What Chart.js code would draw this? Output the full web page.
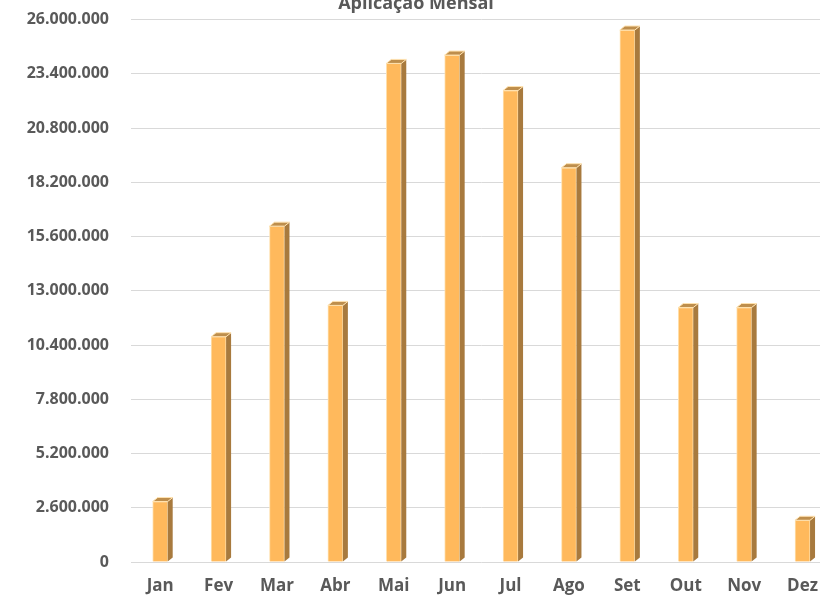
<!DOCTYPE html>
<html>
<head>
<meta charset="utf-8">
<script src="https://cdn.jsdelivr.net/npm/chart.js@4/dist/chart.umd.min.js"></script>
<style>
  html, body { margin: 0; padding: 0; background: #fff; overflow: hidden; width: 820px; height: 595px; }
  #wrap { position: absolute; left: 0; top: -12px; width: 832px; height: 612px; }
</style>
</head>
<body>
<div id="wrap"><canvas id="c" width="832" height="612"></canvas></div>
<script>
const categories = ['Jan','Fev','Mar','Abr','Mai','Jun','Jul','Ago','Set','Out','Nov','Dez'];
const aplicacao = [2900000, 10800000, 16100000, 12300000, 23900000, 24300000, 22600000, 18900000, 25500000, 12200000, 12200000, 2000000];
const yTicks = [0, 2600000, 5200000, 7800000, 10400000, 13000000, 15600000, 18200000, 20800000, 23400000, 26000000];
const chartTitle = 'Aplicação Mensal';

function fmt(v) {
  return String(v).replace(/\B(?=(\d{3})+(?!\d))/g, '.');
}

const bar3d = {
  id: 'bar3d',
  afterDatasetsDraw(chart) {
    const ctx = chart.ctx;
    const meta = chart.getDatasetMeta(0);
    const dx = 5, dy = 4;
    meta.data.forEach(el => {
      const p = el.getProps(['x','y','base','width'], true);
      const l = p.x - p.width / 2, r = p.x + p.width / 2, t = p.y, b = p.base;
      ctx.save();
      ctx.beginPath();
      ctx.moveTo(r, t);
      ctx.lineTo(r + dx, t - dy);
      ctx.lineTo(r + dx, b - dy);
      ctx.lineTo(r, b);
      ctx.closePath();
      ctx.fillStyle = '#A87A3E';
      ctx.fill();
      ctx.beginPath();
      ctx.moveTo(l, t);
      ctx.lineTo(l + dx, t - dy);
      ctx.lineTo(r + dx, t - dy);
      ctx.lineTo(r, t);
      ctx.closePath();
      ctx.fillStyle = '#BE8E4C';
      ctx.fill();
      ctx.strokeStyle = '#FFE2B0';
      ctx.lineWidth = 1;
      ctx.stroke();
      ctx.restore();
    });
  }
};

new Chart(document.getElementById('c'), {
  type: 'bar',
  data: {
    labels: categories,
    datasets: [{
      label: chartTitle,
      data: aplicacao,
      backgroundColor: '#FFB95C',
      borderColor: '#FFE2B0',
      borderWidth: 1,
      barThickness: 15
    }]
  },
  options: {
    responsive: false,
    animation: false,
    devicePixelRatio: 1,
    layout: { padding: 0 },
    plugins: {
      legend: { display: false },
      tooltip: { enabled: false },
      title: {
        display: true,
        text: chartTitle,
        color: '#595959',
        font: { family: 'Open Sans', size: 18, weight: 'bold' },
        padding: { top: 0, bottom: 5 }
      }
    },
    scales: {
      x: {
        grid: { display: false, drawTicks: false },
        border: { display: false },
        ticks: {
          color: '#595959',
          font: { family: 'Open Sans', size: 17, weight: 'bold' },
          padding: 14
        },
        afterFit(s) { s.height = 38; }
      },
      y: {
        min: 0,
        max: 26000000,
        afterBuildTicks(s) { s.ticks = yTicks.map(v => ({ value: v })); },
        grid: { color: '#D9D9D9', lineWidth: 1, drawTicks: false },
        border: { display: false },
        ticks: {
          color: '#595959',
          font: { family: 'Open Sans', size: 16, weight: 'bold' },
          padding: 22,
          callback: v => fmt(v)
        },
        afterFit(s) { s.width = 131; }
      }
    }
  },
  plugins: [bar3d]
});
</script>
</body>
</html>
